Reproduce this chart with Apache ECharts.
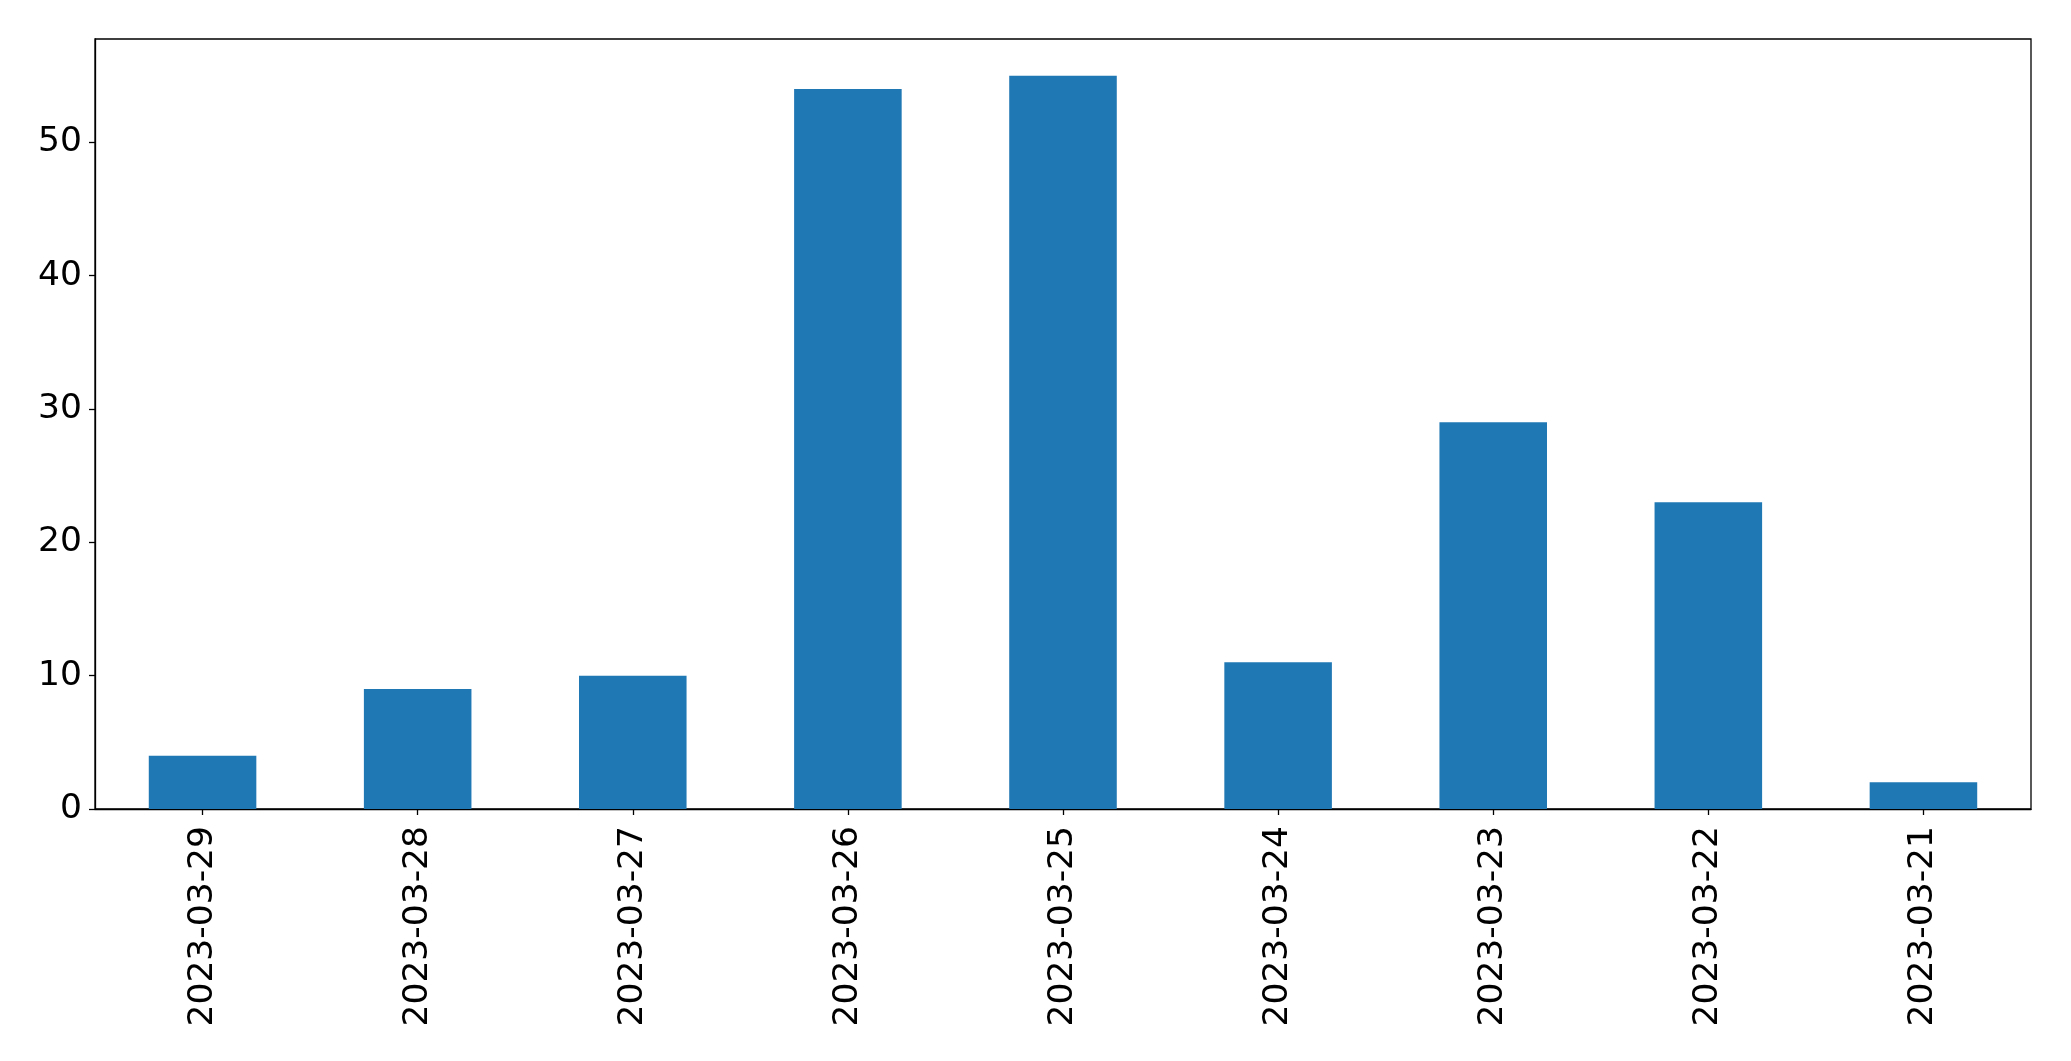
<!DOCTYPE html>
<html>
<head>
<meta charset="utf-8">
<script src="https://cdn.jsdelivr.net/npm/echarts@6/dist/echarts.min.js"></script>
<style>
html,body{margin:0;padding:0;background:#fff;}
#chart{width:2071px;height:1061px;}
</style>
</head>
<body>
<div id="chart"></div>
<script>
const categories = ['2023-03-29','2023-03-28','2023-03-27','2023-03-26','2023-03-25','2023-03-24','2023-03-23','2023-03-22','2023-03-21'];
const counts = [4, 9, 10, 54, 55, 11, 29, 23, 2];
const yTicks = [0, 10, 20, 30, 40, 50];
const yMax = 57.75;

const chart = echarts.init(document.getElementById('chart'), null, {renderer: 'canvas'});
const font = 'DejaVu Sans';
chart.setOption({
  animation: false,
  backgroundColor: '#ffffff',
  grid: {
    left: 95, right: 40, top: 39, bottom: 252,
    show: true, borderColor: '#000', borderWidth: 1.3,
    containLabel: false, outerBoundsMode: 'none'
  },
  xAxis: {
    type: 'category',
    data: categories,
    boundaryGap: true,
    axisLine: {show: true, lineStyle: {color: '#000', width: 1.3}},
    axisTick: {show: true, alignWithLabel: true, length: 6, lineStyle: {color: '#000', width: 1.3}},
    axisLabel: {rotate: 90, margin: 17, color: '#000', fontFamily: font, fontSize: 34.5, interval: 0},
    splitLine: {show: false}
  },
  yAxis: {
    type: 'value',
    min: 0, max: yMax,
    axisLine: {show: true, lineStyle: {color: '#000', width: 1.3}},
    axisTick: {show: true, length: 6, lineStyle: {color: '#000', width: 1.3}, customValues: yTicks},
    axisLabel: {color: '#000', fontFamily: font, fontSize: 34.5, margin: 13, customValues: yTicks},
    splitLine: {show: false}
  },
  series: [{
    type: 'bar',
    data: counts,
    barWidth: '50%',
    itemStyle: {color: '#1f77b4'}
  }]
});
</script>
</body>
</html>
